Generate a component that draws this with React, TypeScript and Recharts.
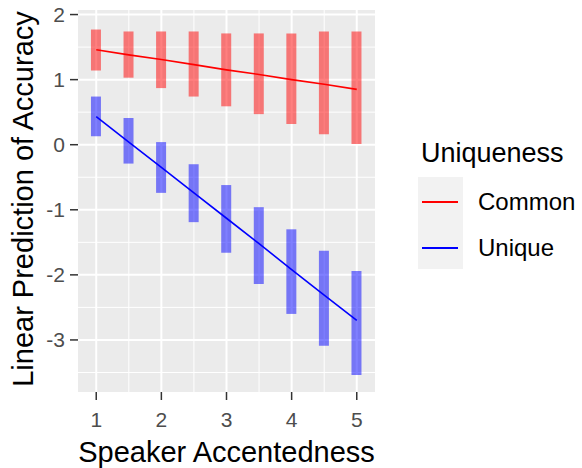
import React from "react";
import {
  ComposedChart,
  Bar,
  Line,
  XAxis,
  YAxis,
  CartesianGrid,
} from "recharts";

const accentLevels = [1, 1.5, 2, 2.5, 3, 3.5, 4, 4.5, 5];

const commonFit = [1.46, 1.38, 1.31, 1.23, 1.15, 1.08, 1.0, 0.93, 0.85];
const commonLow = [1.14, 1.03, 0.87, 0.74, 0.59, 0.47, 0.32, 0.16, 0.01];
const commonHigh = [1.77, 1.74, 1.74, 1.74, 1.71, 1.71, 1.71, 1.74, 1.74];

const uniqueFit = [0.43, 0.04, -0.35, -0.74, -1.13, -1.52, -1.92, -2.31, -2.7];
const uniqueLow = [0.13, -0.29, -0.74, -1.19, -1.66, -2.14, -2.6, -3.09, -3.54];
const uniqueHigh = [0.74, 0.41, 0.04, -0.3, -0.62, -0.96, -1.3, -1.63, -1.94];

const xTicks = [1, 2, 3, 4, 5];
const yTicks = [-3, -2, -1, 0, 1, 2];
const xMinor = [1.5, 2.5, 3.5, 4.5];
const yMinor = [-3.5, -2.5, -1.5, -0.5, 0.5, 1.5];

const seriesNames = ["Common", "Unique"];
const seriesColors = ["#ff0000", "#0000ff"];

const FONT = "'Liberation Sans', Arial, sans-serif";

const data = accentLevels.map((x, i) => ({
  x,
  commonFit: commonFit[i],
  commonRange: [commonLow[i], commonHigh[i]],
  uniqueFit: uniqueFit[i],
  uniqueRange: [uniqueLow[i], uniqueHigh[i]],
}));

const XTitle = ({ viewBox }: any) => (
  <text
    x={viewBox.x + viewBox.width / 2}
    y={viewBox.y + 70}
    textAnchor="middle"
    fontSize={29}
    fontFamily={FONT}
    fill="#000"
  >
    Speaker Accentedness
  </text>
);

const YTitle = ({ viewBox }: any) => {
  const cx = 33;
  const cy = viewBox.y + viewBox.height / 2 - 2;
  return (
    <text
      x={cx}
      y={cy}
      transform={`rotate(-90, ${cx}, ${cy})`}
      textAnchor="middle"
      fontSize={29}
      fontFamily={FONT}
      fill="#000"
    >
      Linear Prediction of Accuracy
    </text>
  );
};

function LegendBox() {
  return (
    <div style={{ position: "absolute", left: 0, top: 0, fontFamily: FONT }}>
      <div
        style={{
          position: "absolute",
          left: 421,
          top: 140,
          fontSize: 27,
          lineHeight: "27px",
          whiteSpace: "nowrap",
          color: "#000",
        }}
      >
        Uniqueness
      </div>
      <div
        style={{
          position: "absolute",
          left: 418,
          top: 177,
          width: 45,
          height: 92,
          background: "#f2f2f2",
        }}
      />
      {seriesNames.map((name, i) => (
        <React.Fragment key={name}>
          <div
            style={{
              position: "absolute",
              left: 422,
              top: 201 + i * 46,
              width: 36,
              height: 2,
              background: seriesColors[i],
            }}
          />
          <div
            style={{
              position: "absolute",
              left: 478,
              top: 190 + i * 46,
              fontSize: 24,
              lineHeight: "24px",
              whiteSpace: "nowrap",
              color: "#000",
            }}
          >
            {name}
          </div>
        </React.Fragment>
      ))}
    </div>
  );
}

export default function App() {
  return (
    <div
      style={{
        position: "absolute",
        left: 0,
        top: 0,
        width: 582,
        height: 468,
        background: "#fff",
        overflow: "hidden",
      }}
    >
      <ComposedChart
        width={582}
        height={468}
        data={data}
        margin={{ top: 10, right: 207, bottom: 0, left: 0 }}
      >
        <CartesianGrid
          xAxisId="x"
          yAxisId="y"
          fill="#ebebeb"
          stroke="#ffffff"
          strokeWidth={1}
          verticalValues={xMinor}
          horizontalValues={yMinor}
        />
        <CartesianGrid
          xAxisId="x"
          yAxisId="y"
          stroke="#ffffff"
          strokeWidth={2}
          verticalValues={xTicks}
          horizontalValues={yTicks}
        />
        <XAxis
          xAxisId="x"
          dataKey="x"
          type="number"
          domain={[0.72, 5.28]}
          ticks={xTicks}
          allowDataOverflow
          axisLine={false}
          tickLine={{ stroke: "#333333", strokeWidth: 1.5 }}
          tickSize={8}
          tickMargin={12}
          height={76}
          tick={{ fontSize: 21, fill: "#4d4d4d", fontFamily: FONT }}
          label={<XTitle />}
        />
        <XAxis
          xAxisId="x2"
          dataKey="x"
          type="number"
          domain={[0.72, 5.28]}
          allowDataOverflow
          hide
        />
        <YAxis
          yAxisId="y"
          type="number"
          domain={[-3.8, 2.07]}
          ticks={yTicks}
          allowDataOverflow
          axisLine={false}
          tickLine={{ stroke: "#333333", strokeWidth: 1.5 }}
          tickSize={8}
          tickMargin={5}
          width={78}
          tick={{ fontSize: 21, fill: "#4d4d4d", fontFamily: FONT }}
          label={<YTitle />}
        />
        <Bar
          xAxisId="x"
          yAxisId="y"
          dataKey="commonRange"
          barSize={10}
          fill={seriesColors[0]}
          fillOpacity={0.5}
          isAnimationActive={false}
        />
        <Bar
          xAxisId="x2"
          yAxisId="y"
          dataKey="uniqueRange"
          barSize={10}
          fill={seriesColors[1]}
          fillOpacity={0.5}
          isAnimationActive={false}
        />
        <Line
          xAxisId="x"
          yAxisId="y"
          dataKey="commonFit"
          type="linear"
          stroke={seriesColors[0]}
          strokeWidth={1.6}
          dot={false}
          isAnimationActive={false}
        />
        <Line
          xAxisId="x"
          yAxisId="y"
          dataKey="uniqueFit"
          type="linear"
          stroke={seriesColors[1]}
          strokeWidth={1.6}
          dot={false}
          isAnimationActive={false}
        />
      </ComposedChart>
      <LegendBox />
    </div>
  );
}
